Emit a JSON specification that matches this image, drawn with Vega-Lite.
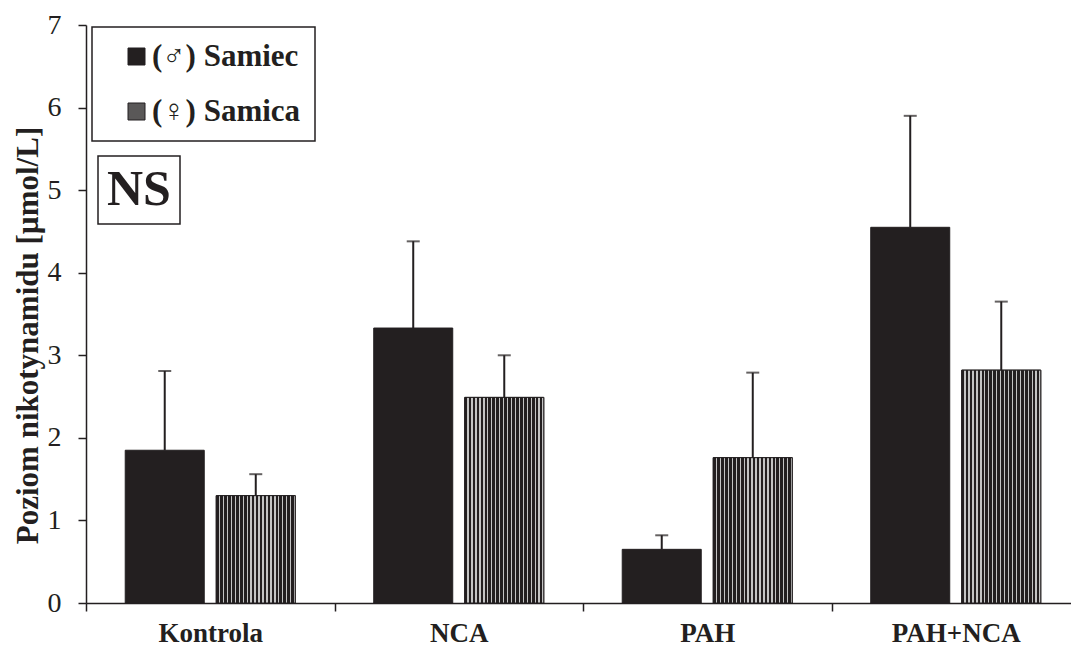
{
  "$schema": "https://vega.github.io/schema/vega-lite/v6.json",
  "width": 985,
  "height": 578,
  "autosize": {"type": "none"},
  "padding": {"left": 86, "top": 25, "right": 0, "bottom": 46},
  "background": "white",
  "config": {
    "view": {"stroke": null},
    "legend": {"strokeWidth": 1.5},
    "font": "Liberation Serif"
  },
  "data": {
    "values": [
      {"group": "Kontrola", "sex": "(♂) Samiec", "mean": 1.85, "upper": 2.81, "test": "NS"},
      {"group": "Kontrola", "sex": "(♀) Samica", "mean": 1.30, "upper": 1.56, "test": "NS"},
      {"group": "NCA", "sex": "(♂) Samiec", "mean": 3.33, "upper": 4.38, "test": "NS"},
      {"group": "NCA", "sex": "(♀) Samica", "mean": 2.49, "upper": 3.00, "test": "NS"},
      {"group": "PAH", "sex": "(♂) Samiec", "mean": 0.65, "upper": 0.82, "test": "NS"},
      {"group": "PAH", "sex": "(♀) Samica", "mean": 1.76, "upper": 2.79, "test": "NS"},
      {"group": "PAH+NCA", "sex": "(♂) Samiec", "mean": 4.55, "upper": 5.90, "test": "NS"},
      {"group": "PAH+NCA", "sex": "(♀) Samica", "mean": 2.82, "upper": 3.65, "test": "NS"}
    ]
  },
  "encoding": {
    "x": {
      "field": "group",
      "type": "nominal",
      "sort": ["Kontrola", "NCA", "PAH", "PAH+NCA"],
      "scale": {"range": [0, 994], "paddingInner": 0, "paddingOuter": 0},
      "axis": {
        "title": null,
        "labelAngle": 0,
        "tickBand": "extent",
        "tickSize": 8,
        "tickWidth": 1.5,
        "tickColor": "#231f20",
        "domainColor": "#231f20",
        "domainWidth": 1.5,
        "labelPadding": 9,
        "labelFont": "Liberation Serif",
        "labelFontSize": 27,
        "labelFontWeight": "bold",
        "labelColor": "#231f20"
      }
    },
    "xOffset": {
      "field": "sex",
      "type": "nominal",
      "sort": ["(♂) Samiec", "(♀) Samica"],
      "scale": {"paddingInner": 0.132, "paddingOuter": 0.431}
    }
  },
  "layer": [
    {
      "mark": {"type": "bar", "stroke": "#231f20", "strokeWidth": 1},
      "encoding": {
        "y": {
          "field": "mean",
          "type": "quantitative",
          "title": "Poziom nikotynamidu [µmol/L]",
          "scale": {"domain": [0, 7], "nice": false},
          "axis": {
            "values": [0, 1, 2, 3, 4, 5, 6, 7],
            "format": "d",
            "grid": false,
            "tickSize": 8,
            "tickWidth": 1.5,
            "tickColor": "#231f20",
            "domainColor": "#231f20",
            "domainWidth": 1.5,
            "labelPadding": 17,
            "labelFont": "Liberation Serif",
            "labelFontSize": 28,
            "labelColor": "#231f20",
            "titleFont": "Liberation Serif",
            "titleFontSize": 31,
            "titleFontWeight": "bold",
            "titleColor": "#231f20",
            "titlePadding": 3,
            "titleY": 310
          }
        },
        "fill": {
          "field": "sex",
          "type": "nominal",
          "sort": ["(♂) Samiec", "(♀) Samica"],
          "scale": {
            "domain": ["(♂) Samiec", "(♀) Samica"],
            "range": ["#231f20", "#5a5858"]
          },
          "legend": {
            "orient": "none",
            "legendX": 6,
            "legendY": 2,
            "title": null,
            "strokeColor": "#231f20",
            "padding": 14,
            "symbolOffset": 15,
            "symbolType": "square",
            "symbolSize": 289,
            "symbolStrokeColor": "#231f20",
            "symbolStrokeWidth": 1,
            "labelOffset": 0,
            "rowPadding": 23,
            "labelFont": "Liberation Serif",
            "labelFontSize": 31,
            "labelFontWeight": "bold",
            "labelColor": "#231f20",
            "labelLimit": 400
          }
        }
      }
    },
    {
      "transform": [{"filter": "datum.sex == '(♀) Samica'"}],
      "mark": {
        "type": "bar",
        "stroke": "#231f20",
        "strokeWidth": 1,
        "fill": {
          "gradient": "linear",
          "x1": 0, "y1": 0, "x2": 1, "y2": 0,
          "stops": [
            {"offset": 0.00, "color": "#231f20"}, {"offset": 0.033, "color": "#231f20"}, {"offset": 0.033, "color": "#c4c4c4"}, {"offset": 0.05, "color": "#c4c4c4"},
            {"offset": 0.05, "color": "#231f20"}, {"offset": 0.083, "color": "#231f20"}, {"offset": 0.083, "color": "#c4c4c4"}, {"offset": 0.10, "color": "#c4c4c4"},
            {"offset": 0.10, "color": "#231f20"}, {"offset": 0.133, "color": "#231f20"}, {"offset": 0.133, "color": "#c4c4c4"}, {"offset": 0.15, "color": "#c4c4c4"},
            {"offset": 0.15, "color": "#231f20"}, {"offset": 0.183, "color": "#231f20"}, {"offset": 0.183, "color": "#c4c4c4"}, {"offset": 0.20, "color": "#c4c4c4"},
            {"offset": 0.20, "color": "#231f20"}, {"offset": 0.233, "color": "#231f20"}, {"offset": 0.233, "color": "#c4c4c4"}, {"offset": 0.25, "color": "#c4c4c4"},
            {"offset": 0.25, "color": "#231f20"}, {"offset": 0.283, "color": "#231f20"}, {"offset": 0.283, "color": "#c4c4c4"}, {"offset": 0.30, "color": "#c4c4c4"},
            {"offset": 0.30, "color": "#231f20"}, {"offset": 0.333, "color": "#231f20"}, {"offset": 0.333, "color": "#c4c4c4"}, {"offset": 0.35, "color": "#c4c4c4"},
            {"offset": 0.35, "color": "#231f20"}, {"offset": 0.383, "color": "#231f20"}, {"offset": 0.383, "color": "#c4c4c4"}, {"offset": 0.40, "color": "#c4c4c4"},
            {"offset": 0.40, "color": "#231f20"}, {"offset": 0.433, "color": "#231f20"}, {"offset": 0.433, "color": "#c4c4c4"}, {"offset": 0.45, "color": "#c4c4c4"},
            {"offset": 0.45, "color": "#231f20"}, {"offset": 0.483, "color": "#231f20"}, {"offset": 0.483, "color": "#c4c4c4"}, {"offset": 0.50, "color": "#c4c4c4"},
            {"offset": 0.50, "color": "#231f20"}, {"offset": 0.533, "color": "#231f20"}, {"offset": 0.533, "color": "#c4c4c4"}, {"offset": 0.55, "color": "#c4c4c4"},
            {"offset": 0.55, "color": "#231f20"}, {"offset": 0.583, "color": "#231f20"}, {"offset": 0.583, "color": "#c4c4c4"}, {"offset": 0.60, "color": "#c4c4c4"},
            {"offset": 0.60, "color": "#231f20"}, {"offset": 0.633, "color": "#231f20"}, {"offset": 0.633, "color": "#c4c4c4"}, {"offset": 0.65, "color": "#c4c4c4"},
            {"offset": 0.65, "color": "#231f20"}, {"offset": 0.683, "color": "#231f20"}, {"offset": 0.683, "color": "#c4c4c4"}, {"offset": 0.70, "color": "#c4c4c4"},
            {"offset": 0.70, "color": "#231f20"}, {"offset": 0.733, "color": "#231f20"}, {"offset": 0.733, "color": "#c4c4c4"}, {"offset": 0.75, "color": "#c4c4c4"},
            {"offset": 0.75, "color": "#231f20"}, {"offset": 0.783, "color": "#231f20"}, {"offset": 0.783, "color": "#c4c4c4"}, {"offset": 0.80, "color": "#c4c4c4"},
            {"offset": 0.80, "color": "#231f20"}, {"offset": 0.833, "color": "#231f20"}, {"offset": 0.833, "color": "#c4c4c4"}, {"offset": 0.85, "color": "#c4c4c4"},
            {"offset": 0.85, "color": "#231f20"}, {"offset": 0.883, "color": "#231f20"}, {"offset": 0.883, "color": "#c4c4c4"}, {"offset": 0.90, "color": "#c4c4c4"},
            {"offset": 0.90, "color": "#231f20"}, {"offset": 0.933, "color": "#231f20"}, {"offset": 0.933, "color": "#c4c4c4"}, {"offset": 0.95, "color": "#c4c4c4"},
            {"offset": 0.95, "color": "#231f20"}, {"offset": 0.983, "color": "#231f20"}, {"offset": 0.983, "color": "#c4c4c4"}, {"offset": 1.00, "color": "#c4c4c4"}
          ]
        }
      },
      "encoding": {
        "y": {"field": "mean", "type": "quantitative", "title": "Poziom nikotynamidu [µmol/L]"}
      }
    },
    {
      "mark": {"type": "rule", "strokeWidth": 2, "color": "#231f20"},
      "encoding": {
        "y": {"field": "mean", "type": "quantitative", "title": "Poziom nikotynamidu [µmol/L]"},
        "y2": {"field": "upper"},
        "strokeDash": {
          "field": "test",
          "type": "nominal",
          "scale": {"range": [[1, 0]]},
          "legend": {
            "orient": "none",
            "legendX": 12,
            "legendY": 131,
            "title": null,
            "strokeColor": "#231f20",
            "padding": 9,
            "symbolType": "circle",
            "symbolSize": 0,
            "symbolStrokeWidth": 0,
            "symbolOpacity": 0,
            "labelOffset": -50,
            "labelFont": "Liberation Serif",
            "labelFontSize": 50,
            "labelFontWeight": "bold",
            "labelColor": "#231f20"
          }
        }
      }
    },
    {
      "mark": {"type": "tick", "size": 13, "thickness": 2, "color": "#231f20"},
      "encoding": {
        "y": {"field": "upper", "type": "quantitative", "title": "Poziom nikotynamidu [µmol/L]"}
      }
    }
  ]
}
